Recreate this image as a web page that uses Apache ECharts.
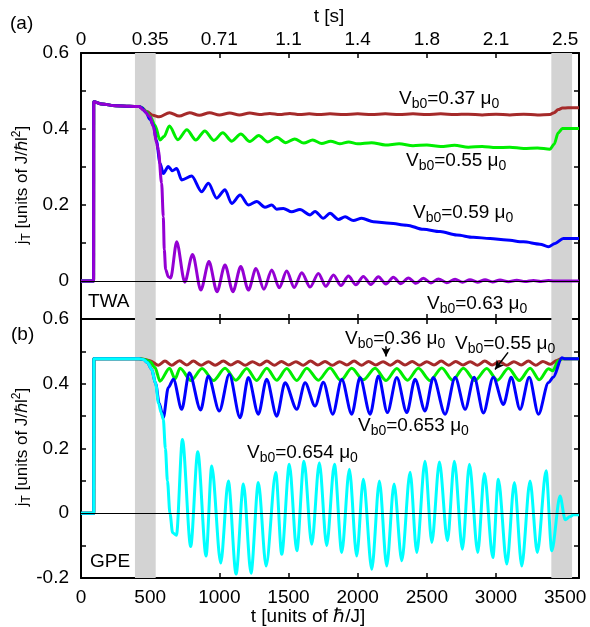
<!DOCTYPE html>
<html><head><meta charset="utf-8">
<script src="https://cdn.jsdelivr.net/npm/echarts@6/dist/echarts.min.js"></script>
<style>html,body{margin:0;padding:0;background:#fff}#c{width:590px;height:627px}</style>
</head><body><div id="c"></div>
<script>
// ---------- tick labels ----------
const topTimeLabels = ['0','0.35','0.71','1.1','1.4','1.8','2.1','2.5'];
const bottomTickLabels = ['0','500','1000','1500','2000','2500','3000','3500'];
const yLabelsA = ['0','0.2','0.4','0.6'];
const yLabelsB = ['-0.2','0','0.2','0.4','0.6'];
const rampBands = [[390,540],[3400,3550]];

// ---------- panel (a) TWA ----------
const twaStart = [[0,0],[91,0],[92,0.472],[150,0.466],[250,0.461],[350,0.46],[420,0.459]];
const twa037 = [[440,0.455],[475,0.446],[520,0.436],[565,0.432],[640,0.443],[710,0.434],[785,0.443],[855,0.436],[930,0.443],[1000,0.437],[1075,0.442],[1145,0.437],[1220,0.442],[1290,0.438],[1365,0.441],[1435,0.438],[1510,0.441],[1580,0.438],[1650,0.44],[1720,0.438],[1800,0.44],[1900,0.438],[2000,0.44],[2100,0.438],[2200,0.44],[2300,0.438],[2400,0.44],[2500,0.438],[2600,0.44],[2700,0.438],[2800,0.439],[2900,0.437],[3000,0.439],[3100,0.437],[3200,0.439],[3300,0.437],[3390,0.438],[3420,0.443],[3450,0.451],[3480,0.455],[3520,0.456],[3600,0.456]];
const twa055 = [[440,0.456],[470,0.447],[500,0.433],[535,0.41],[571,0.371],[600,0.38],[639,0.408],[700,0.372],[765,0.398],[830,0.371],[895,0.395],[960,0.37],[1025,0.39],[1090,0.368],[1155,0.387],[1220,0.367],[1285,0.383],[1350,0.366],[1415,0.378],[1480,0.364],[1545,0.374],[1610,0.363],[1675,0.371],[1740,0.362],[1805,0.368],[1870,0.361],[1935,0.366],[2000,0.361],[2100,0.364],[2200,0.358],[2300,0.361],[2400,0.356],[2500,0.358],[2600,0.354],[2700,0.357],[2800,0.352],[2900,0.354],[3000,0.351],[3100,0.352],[3200,0.349],[3300,0.35],[3390,0.347],[3420,0.36],[3450,0.39],[3480,0.401],[3600,0.401]];
const twa059 = [[440,0.456],[470,0.443],[500,0.425],[523,0.41],[545,0.37],[571,0.31],[595,0.283],[631,0.301],[660,0.29],[692,0.296],[728,0.266],[800,0.276],[872,0.235],[921,0.257],[981,0.218],[1041,0.24],[1089,0.204],[1150,0.226],[1210,0.2],[1270,0.209],[1330,0.194],[1380,0.2],[1415,0.189],[1463,0.191],[1523,0.182],[1583,0.188],[1656,0.174],[1692,0.183],[1752,0.165],[1800,0.178],[1861,0.162],[1909,0.169],[1969,0.159],[2029,0.165],[2114,0.156],[2234,0.152],[2355,0.147],[2475,0.136],[2596,0.13],[2716,0.121],[2836,0.115],[2957,0.112],[3077,0.108],[3198,0.103],[3318,0.097],[3379,0.09],[3427,0.099],[3487,0.112],[3600,0.112]];
const twa063 = [[451,0.45],[499,0.432],[523,0.406],[547,0.362],[559,0.345],[583,0.257],[595,0.169],[602,0.082],[612,0.03],[631,0.011],[648,0.008],[692,0.103],[750,-0.003],[807,0.07],[866,-0.024],[925,0.051],[983,-0.028],[1041,0.042],[1098,-0.028],[1155,0.038],[1210,-0.024],[1265,0.033],[1322,-0.022],[1379,0.029],[1433,-0.018],[1487,0.026],[1541,-0.017],[1596,0.022],[1656,-0.016],[1716,0.02],[1770,-0.014],[1825,0.016],[1879,-0.012],[1933,0.013],[1987,-0.01],[2041,0.012],[2095,-0.009],[2150,0.011],[2204,-0.008],[2258,0.0096],[2312,-0.007],[2367,0.008],[2421,-0.006],[2475,0.007],[2530,-0.005],[2584,0.0055],[2644,-0.0045],[2704,0.0045],[2758,-0.0035],[2812,0.0035],[2866,-0.003],[2921,0.003],[2975,-0.0025],[3029,0.0025],[3090,-0.002],[3150,0.002],[3210,-0.0015],[3270,0.0015],[3325,-0.001],[3379,0.001],[3420,0],[3600,0]];

// ---------- panel (b) GPE ----------
const gpeStart = [[0,0],[92,0],[93,0.477],[200,0.477],[420,0.477]];
const gpe036 = [[450,0.476],[499,0.471],[559,0.457],[607,0.47],[655,0.457],[712,0.471],[764,0.458],[812,0.47],[868,0.457],[921,0.468],[969,0.457],[1029,0.47],[1082,0.458],[1134,0.469],[1187,0.457],[1239,0.468],[1292,0.458],[1344,0.47],[1397,0.457],[1449,0.469],[1502,0.458],[1554,0.468],[1607,0.457],[1659,0.47],[1712,0.458],[1764,0.469],[1817,0.457],[1869,0.468],[1922,0.458],[1974,0.47],[2027,0.457],[2079,0.469],[2132,0.458],[2184,0.468],[2237,0.457],[2289,0.47],[2342,0.458],[2394,0.469],[2447,0.457],[2499,0.468],[2552,0.458],[2604,0.47],[2657,0.457],[2709,0.469],[2762,0.458],[2814,0.468],[2867,0.457],[2919,0.47],[2972,0.458],[3024,0.469],[3077,0.457],[3129,0.468],[3182,0.458],[3234,0.47],[3287,0.457],[3339,0.469],[3392,0.46],[3440,0.472],[3470,0.477],[3600,0.477]];
const gpe055 = [[450,0.476],[500,0.468],[535,0.45],[571,0.408],[640,0.448],[680,0.415],[716,0.448],[795,0.41],[875,0.447],[958,0.41],[1041,0.448],[1120,0.411],[1198,0.447],[1270,0.41],[1343,0.448],[1415,0.411],[1487,0.447],[1560,0.41],[1632,0.448],[1716,0.411],[1800,0.449],[1878,0.41],[1957,0.448],[2040,0.412],[2126,0.448],[2205,0.41],[2283,0.447],[2360,0.411],[2439,0.448],[2523,0.41],[2608,0.449],[2686,0.411],[2764,0.448],[2848,0.41],[2933,0.447],[3010,0.411],[3090,0.448],[3168,0.41],[3247,0.448],[3313,0.412],[3379,0.446],[3410,0.44],[3450,0.47],[3480,0.477],[3600,0.477]];
const gpe0653 = [[450,0.475],[480,0.466],[510,0.445],[540,0.4],[565,0.34],[595,0.295],[631,0.388],[668,0.414],[728,0.321],[783,0.434],[865,0.319],[920,0.424],[1000,0.316],[1072,0.429],[1150,0.295],[1210,0.419],[1282,0.306],[1342,0.414],[1415,0.3],[1475,0.403],[1560,0.321],[1620,0.403],[1692,0.331],[1752,0.405],[1820,0.306],[1885,0.414],[1957,0.306],[2017,0.419],[2090,0.306],[2150,0.424],[2215,0.311],[2283,0.419],[2355,0.311],[2415,0.414],[2487,0.316],[2547,0.419],[2632,0.306],[2705,0.42],[2777,0.321],[2842,0.42],[2909,0.31],[2980,0.42],[3054,0.336],[3110,0.42],[3174,0.321],[3240,0.42],[3307,0.306],[3379,0.403],[3414,0.42],[3476,0.48],[3500,0.477],[3600,0.477]];
const gpe0654 = [[450,0.475],[480,0.466],[510,0.445],[540,0.4],[560,0.34],[580,0.31],[595,0.29],[610,0.2],[625,0.1],[643,0.0],[662,-0.06],[690,-0.068],[733,0.228],[793,-0.103],[844,0.19],[904,-0.132],[945,0.146],[1010,-0.154],[1065,0.1],[1121,-0.188],[1174,0.09],[1229,-0.185],[1282,0.095],[1338,-0.163],[1408,0.126],[1451,-0.127],[1506,0.151],[1560,-0.116],[1612,0.161],[1668,-0.096],[1723,0.156],[1776,-0.1],[1832,0.151],[1885,-0.121],[1940,0.136],[1993,-0.132],[2041,0.105],[2102,-0.173],[2157,0.1],[2210,-0.163],[2263,0.09],[2319,-0.147],[2379,0.127],[2427,-0.121],[2487,0.161],[2536,-0.09],[2591,0.158],[2649,-0.085],[2699,0.161],[2757,-0.111],[2808,0.151],[2868,-0.121],[2916,0.123],[2977,-0.137],[3017,0.105],[3078,-0.157],[3133,0.095],[3186,-0.163],[3246,0.1],[3299,-0.121],[3362,0.131],[3403,-0.116],[3463,0.053],[3500,-0.02],[3536,-0.01],[3560,-0.005],[3600,-0.005]];

// arrows (data coordinates, panel b)
const arrow036 = [[2205,0.516],[2205,0.484]];
const arrow055 = [[3087,0.497],[2993,0.444]];

// ---------- styles ----------
const F = 'Liberation Sans, Arial, Helvetica, sans-serif';
const FS = 19;
const C = {brown:'#a52a2a', green:'#00ee00', blue:'#0000ff', purple:'#9400d3', cyan:'#00ffff', band:'#d3d3d3'};

const chart = echarts.init(document.getElementById('c'), null, {renderer:'canvas'});

function xAx(grid, pos, showLabel, fmt, margin){
  return {type:'value', gridIndex:grid, position:pos, min:0, max:3600, interval:500,
    axisLine:{show:true, onZero:false, lineStyle:{color:'#000', width:2}},
    axisTick:{show:true, inside:true, length:5, lineStyle:{color:'#000', width:1.5}},
    axisLabel:{show:showLabel, color:'#000', fontSize:FS, fontFamily:F, margin:margin||8, formatter:fmt, showMaxLabel:false},
    splitLine:{show:false}};
}
function yAx(grid, pos, min, labels){
  return {type:'value', gridIndex:grid, position:pos, min:min, max:0.6, interval:0.1,
    axisLine:{show:true, onZero:false, lineStyle:{color:'#000', width:2}},
    axisTick:{show:true, inside:true, length:5, lineStyle:{color:'#000', width:1.5}},
    axisLabel:{show:!!labels, color:'#000', fontSize:FS, fontFamily:F, margin:12,
      formatter: v => { const s = String(Math.round(v*10)/10); return labels && labels.includes(s) ? s : ''; }},
    splitLine:{show:false}};
}
function ser(name, data, color, xi, yi, extra){
  return Object.assign({type:'line', name, data, xAxisIndex:xi, yAxisIndex:yi, showSymbol:false, symbol:'none',
    smooth:0.3, smoothMonotone:'x', lineStyle:{color, width:3}, itemStyle:{color}, z:3, animation:false}, extra||{});
}
function bands(){
  return {silent:true, itemStyle:{color:C.band}, data: rampBands.map(b => [{xAxis:b[0]},{xAxis:b[1]}])};
}
function zeroLine(){
  return {silent:true, symbol:'none', label:{show:false}, lineStyle:{color:'#000', width:1, type:'solid'}, data:[{yAxis:0}]};
}
function arrowItem(a){
  return [{coord:a[0], symbol:'none'},{coord:a[1], symbol:'arrow', symbolSize:[7,9]}];
}

const rich = {
  m:{fontSize:19, fontFamily:F, color:'#000', lineHeight:24, verticalAlign:'middle'},
  s:{fontSize:14, fontFamily:F, color:'#000', lineHeight:14, verticalAlign:'bottom'}
};
function vlab(val, x, y){
  return {type:'text', x, y, silent:true, z:10, style:{text:`{m|V}{s|b0}{m|=${val} μ}{s|0}`, rich, align:'left', verticalAlign:'middle'}};
}
function plain(t, x, y, align){
  return {type:'text', x, y, silent:true, z:10, style:{text:t, font:`${FS}px ${F}`, fill:'#000', align:align||'left', verticalAlign:'middle'}};
}
function yname(x, y){
  return {type:'text', x, y, rotation:Math.PI/2, silent:true, z:10,
    style:{text:'{m|j}{s|T}{m| [units of J/ℏl}{p|2}{m|]}', rich:{
      m:{fontSize:17, fontFamily:F, color:'#000', lineHeight:22, verticalAlign:'middle'},
      s:{fontSize:12, fontFamily:F, color:'#000', lineHeight:12, verticalAlign:'bottom'},
      p:{fontSize:12, fontFamily:F, color:'#000', lineHeight:12, verticalAlign:'top'}},
      align:'center', verticalAlign:'middle'}};
}

const option = {
  animation:false,
  backgroundColor:'#fff',
  grid:[{left:81, top:53, width:498, height:266}, {left:81, top:319, width:498, height:259}],
  xAxis:[
    xAx(0,'bottom',false),
    xAx(0,'top',true, v => (v%500===0 && v/500 < topTimeLabels.length) ? topTimeLabels[v/500] : '', 4),
    xAx(1,'bottom',true, v => (v%500===0 && v/500 < bottomTickLabels.length) ? bottomTickLabels[v/500] : '', 10),
    xAx(1,'top',false)
  ],
  yAxis:[ yAx(0,'left',-0.1,yLabelsA), yAx(0,'right',-0.1,null), yAx(1,'left',-0.2,yLabelsB), yAx(1,'right',-0.2,null) ],
  series:[
    ser('a037', twaStart.concat(twa037), C.brown, 0, 0, {markArea:bands(), markLine:zeroLine()}),
    ser('a055', twaStart.concat(twa055), C.green, 0, 0),
    ser('a059', twaStart.concat(twa059), C.blue, 0, 0),
    ser('a063', twaStart.concat(twa063), C.purple, 0, 0),
    ser('b036', gpeStart.concat(gpe036), C.brown, 2, 2, {markArea:bands(), markLine:zeroLine()}),
    ser('b055', gpeStart.concat(gpe055), C.green, 2, 2),
    ser('b0653', gpeStart.concat(gpe0653), C.blue, 2, 2),
    ser('b0654', gpeStart.concat(gpe0654), C.cyan, 2, 2,
      {markLine:{silent:true, label:{show:false}, lineStyle:{color:'#000', width:1.5, type:'solid'}, z:10,
        data:[arrowItem(arrow036), arrowItem(arrow055)]}})
  ],
  graphic:[
    plain('(a)', 10, 24),
    plain('(b)', 11, 335),
    plain('t [s]', 329, 17, 'center'),
    {type:'text', x:308, y:617, silent:true, z:10, style:{text:'t [units of ℏ/J]', font:`${FS}px ${F}`, fill:'#000', align:'center', verticalAlign:'middle'}},
    yname(22, 185),
    yname(22, 447),
    plain('TWA', 88, 302),
    plain('GPE', 90, 562),
    vlab('0.37', 399, 99),
    vlab('0.55', 406, 161),
    vlab('0.59', 413, 213),
    vlab('0.63', 427, 304),
    vlab('0.36', 345, 339),
    vlab('0.55', 455, 344),
    vlab('0.653', 358, 426),
    vlab('0.654', 247, 453)
  ]
};
chart.setOption(option);
</script>
</body></html>
